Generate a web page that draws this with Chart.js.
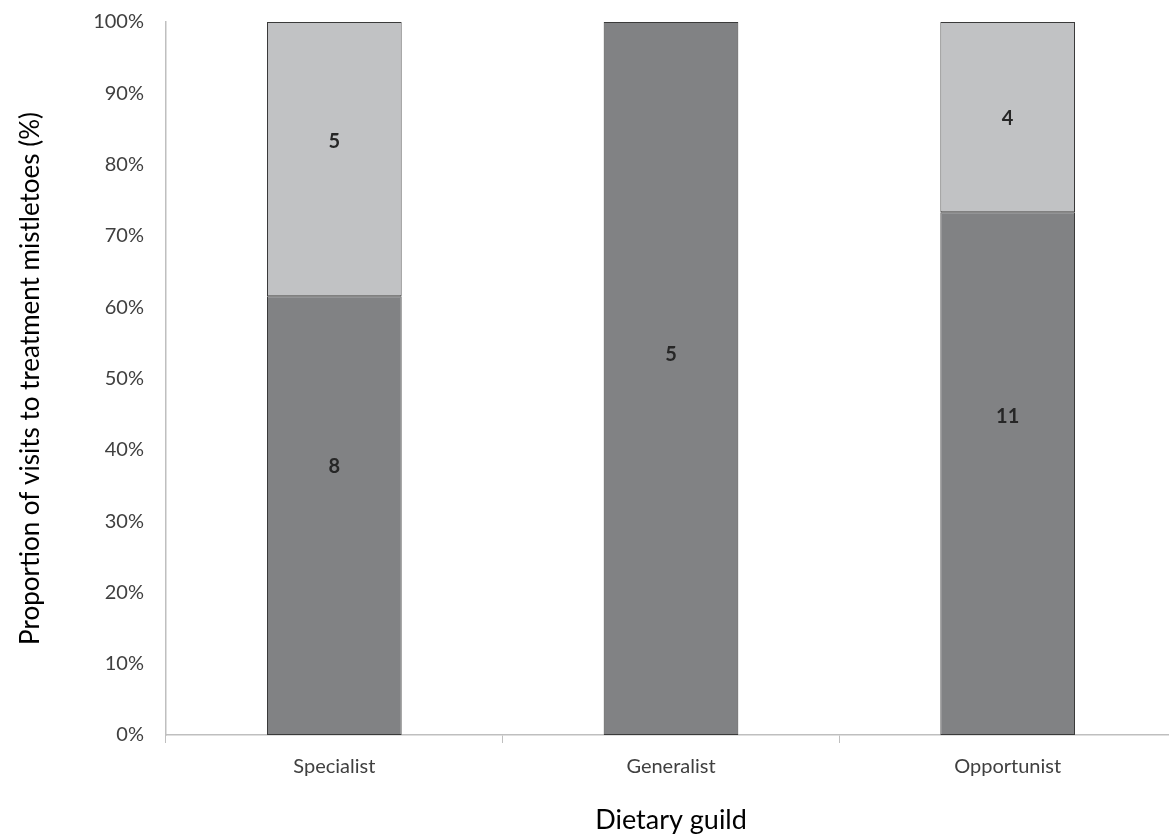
<!DOCTYPE html>
<html>
<head>
<meta charset="utf-8">
<script src="https://cdn.jsdelivr.net/npm/chart.js@4.4.1/dist/chart.umd.min.js"></script>
<style>
  html, body { margin: 0; padding: 0; background: #fff; overflow: hidden; }
  #wrap { position: absolute; left: 0; top: 0; }
</style>
</head>
<body>
<div id="wrap"><canvas id="c" width="1176" height="837"></canvas></div>
<script>
// Dietary guilds and visit counts to treatment mistletoes
const guilds = ['Specialist', 'Generalist', 'Opportunist'];
const darkCounts = [8, 5, 11];
const lightCounts = [5, 0, 4];
const yTicks = [0, 10, 20, 30, 40, 50, 60, 70, 80, 90, 100];

// Convert counts to proportions of each guild's total
const totals = guilds.map((g, i) => darkCounts[i] + lightCounts[i]);
const darkPct = darkCounts.map((v, i) => v / totals[i] * 100);
const lightPct = lightCounts.map((v, i) => v / totals[i] * 100);

const FONT = 'Lato, "Open Sans", "Liberation Sans", sans-serif';

// Count labels drawn inside the bar segments, at set heights on the y axis
const countLabels = {
  id: 'countLabels',
  afterDatasetsDraw(chart, args, opts) {
    const { ctx } = chart;
    const yScale = chart.scales.y;
    ctx.save();
    ctx.font = 'bold 20px ' + FONT;
    ctx.fillStyle = '#262626';
    ctx.textAlign = 'center';
    ctx.textBaseline = 'middle';
    chart.data.datasets.forEach((ds, di) => {
      const meta = chart.getDatasetMeta(di);
      meta.data.forEach((bar, i) => {
        const n = ds.counts[i];
        if (!n) return;
        const at = opts.heights[di][i];
        const y = at != null ? yScale.getPixelForValue(at) : (bar.y + bar.base) / 2;
        ctx.fillText(String(n), bar.x, y);
      });
    });
    ctx.restore();
  }
};

new Chart(document.getElementById('c'), {
  type: 'bar',
  data: {
    labels: guilds,
    datasets: [
      {
        data: darkPct,
        counts: darkCounts,
        backgroundColor: '#818284',
        borderColor: '#3a3a3a',
        borderWidth: 1,
        borderSkipped: false
      },
      {
        data: lightPct,
        counts: lightCounts,
        backgroundColor: '#c1c2c4',
        borderColor: '#3a3a3a',
        borderWidth: 1,
        borderSkipped: false
      }
    ]
  },
  plugins: [countLabels],
  options: {
    responsive: false,
    animation: false,
    layout: { padding: { top: 22, left: 0, right: 0, bottom: 0 } },
    datasets: { bar: { categoryPercentage: 1.0, barPercentage: 0.4 } },
    plugins: {
      legend: { display: false },
      tooltip: { enabled: false },
      countLabels: {
        heights: [[37.6, 53.4, 44.6], [83.2, null, 86.5]]
      }
    },
    scales: {
      x: {
        stacked: true,
        afterFit(scale) {
          scale.height = 102;
          scale.paddingLeft = 0;
          scale.paddingRight = 0;
        },
        grid: {
          offset: true,
          drawOnChartArea: false,
          drawTicks: true,
          tickLength: 8,
          color: '#bfbfbf'
        },
        border: { color: '#bfbfbf', width: 1.5 },
        ticks: {
          color: '#404040',
          font: { family: FONT, size: 20 },
          padding: 12
        },
        title: {
          display: true,
          text: 'Dietary guild',
          color: '#000',
          font: { family: FONT, size: 27 },
          padding: { top: 0, bottom: 1 }
        }
      },
      y: {
        stacked: true,
        min: 0,
        max: 100,
        afterFit(scale) {
          scale.width = 166;
          scale.paddingTop = 0;
          scale.paddingBottom = 0;
        },
        afterBuildTicks(scale) { scale.ticks = yTicks.map(v => ({ value: v })); },
        grid: { display: false, drawTicks: false },
        border: { color: '#bfbfbf', width: 1.5 },
        ticks: {
          color: '#404040',
          font: { family: FONT, size: 20 },
          padding: 22,
          callback: v => v + '%'
        },
        title: {
          display: true,
          text: 'Proportion of visits to treatment mistletoes (%)',
          color: '#000',
          font: { family: FONT, size: 26 },
          padding: { top: 15, bottom: 0 }
        }
      }
    }
  }
});
</script>
</body>
</html>
